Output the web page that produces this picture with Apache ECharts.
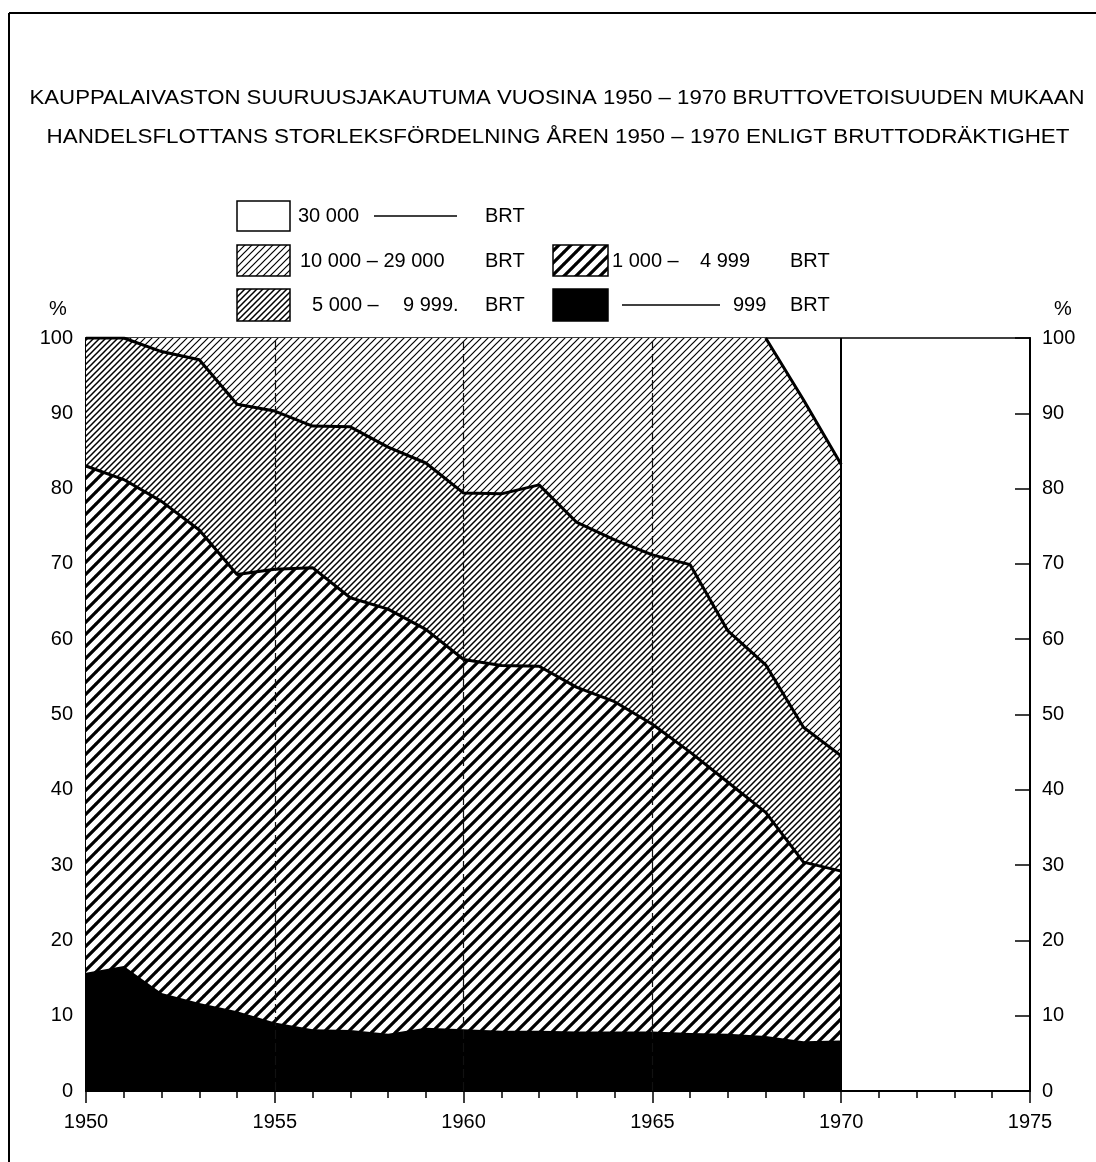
<!DOCTYPE html>
<html>
<head>
<meta charset="utf-8">
<script src="https://cdn.jsdelivr.net/npm/echarts@6/dist/echarts.min.js"></script>
<style>html,body{margin:0;padding:0;background:#fff}#c{width:1096px;height:1162px}</style>
</head>
<body>
<div id="c"></div>
<script>
// ---- data (percent of gross tonnage by size class) ----
const years = [1950,1951,1952,1953,1954,1955,1956,1957,1958,1959,1960,1961,1962,1963,1964,1965,1966,1967,1968,1969,1970];
const under1000   = [15.7,16.6,13.0,11.7,10.6,9.1,8.2,8.1,7.6,8.4,8.2,8.0,8.0,7.9,7.9,7.9,7.7,7.6,7.3,6.6,6.7];
const s1000_4999  = [67.3,64.6,65.3,62.8,58.0,60.2,61.3,57.4,56.4,52.9,49.1,48.5,48.4,45.7,43.8,40.8,37.3,33.4,29.7,23.8,22.5];
const s5000_9999  = [17.0,18.8,19.9,22.6,22.6,21.0,18.8,22.7,21.5,22.1,22.1,22.8,24.1,21.9,21.5,22.5,24.9,20.1,19.6,17.9,15.3];
const s10000_29000= [0.0,0.0,1.8,2.9,8.8,9.7,11.7,11.8,14.5,16.6,20.6,20.7,19.5,24.5,26.8,28.8,30.1,38.9,43.4,43.5,38.7];
const over30000   = [0,0,0,0,0,0,0,0,0,0,0,0,0,0,0,0,0,0,0,8.2,16.8];
const xTickLabels = [1950,1955,1960,1965,1970,1975];
const yTickLabels = [0,10,20,30,40,50,60,70,80,90,100];

// cumulative tops built from the class shares
const cum = (arrs) => years.map((y, i) => [y, +arrs.reduce((s, a) => s + a[i], 0).toFixed(2)]);
const topUnder1000 = cum([under1000]);
const top4999 = cum([under1000, s1000_4999]);
const top9999 = cum([under1000, s1000_4999, s5000_9999]);
const top29000 = cum([under1000, s1000_4999, s5000_9999, s10000_29000]);
// boundary line between 10 000-29 000 and 30 000- (only where the top class exists)
const boundary30000 = top29000.filter((p, i) => over30000[i] > 0 || (i + 1 < years.length && over30000[i + 1] > 0));

function hatch(size, lw) {
  const c = document.createElement('canvas');
  c.width = size; c.height = size;
  const g = c.getContext('2d');
  g.fillStyle = '#fff'; g.fillRect(0, 0, size, size);
  g.strokeStyle = '#000'; g.lineWidth = lw;
  g.beginPath();
  for (let k = -1; k <= 1; k++) {
    g.moveTo(k * size - 1, size + 1);
    g.lineTo(k * size + size + 1, -1);
  }
  g.stroke();
  return { image: c, repeat: 'repeat' };
}
const P_fine = hatch(7, 1.2);
const P_med = hatch(6, 1.5);
const P_thick = hatch(12, 3.2);

const FONT = 'Liberation Sans';
const chart = echarts.init(document.getElementById('c'), null, { renderer: 'canvas' });

function measure(text, size) {
  const c = document.createElement('canvas').getContext('2d');
  c.font = size + 'px "' + FONT + '"';
  return c.measureText(text).width;
}
const T1 = 'KAUPPALAIVASTON SUURUUSJAKAUTUMA VUOSINA 1950 – 1970 BRUTTOVETOISUUDEN MUKAAN';
const T2 = 'HANDELSFLOTTANS STORLEKSFÖRDELNING ÅREN 1950 – 1970 ENLIGT BRUTTODRÄKTIGHET';
const TS = 20;
const sx1 = 1055 / measure(T1, TS);
const sx2 = 1023 / measure(T2, TS);

const LF = '20px "' + FONT + '"';
const txt = (x, y, text, align) => ({
  type: 'text', x: x, y: y,
  style: { text: text, fill: '#000', font: LF, textVerticalAlign: 'middle', textAlign: align || 'left' }
});
const hline = (x1, x2, y, w) => ({ type: 'line', shape: { x1: x1, y1: y, x2: x2, y2: y }, style: { stroke: '#000', lineWidth: w || 1.5 } });
const box = (x, y, w, h, fill) => ({ type: 'rect', shape: { x: x, y: y, width: w, height: h }, style: { fill: fill, stroke: '#000', lineWidth: 1.5 } });

const areaSeries = (name, data, fill, lw) => ({
  name: name, type: 'line', data: data, symbol: 'none', silent: true,
  lineStyle: { color: '#000', width: lw },
  areaStyle: { color: fill, opacity: 1 }
});

chart.setOption({
  animation: false,
  backgroundColor: '#fff',
  grid: { left: 86, right: 66, top: 338, bottom: 71, show: true, borderColor: '#000', borderWidth: 1.5, backgroundColor: 'transparent' },
  xAxis: {
    type: 'value', min: xTickLabels[0], max: xTickLabels[xTickLabels.length - 1], interval: 5,
    axisLine: { show: true, onZero: false, lineStyle: { color: '#000', width: 2 } },
    axisTick: { show: true, length: 12, lineStyle: { color: '#000', width: 1.5 } },
    minorTick: { show: true, splitNumber: 5, length: 7, lineStyle: { color: '#000', width: 1.5 } },
    axisLabel: { color: '#000', fontSize: 20, fontFamily: FONT, margin: 21, formatter: v => String(v) },
    splitLine: { show: false }
  },
  yAxis: [0, 1].map(i => ({
    type: 'value', min: yTickLabels[0], max: yTickLabels[yTickLabels.length - 1], interval: 10,
    position: i === 0 ? 'left' : 'right',
    axisLine: { show: true, lineStyle: { color: '#000', width: 2 } },
    axisTick: { show: true, inside: true, length: 15, lineStyle: { color: '#000', width: 1.5 } },
    axisLabel: { color: '#000', fontSize: 20, fontFamily: FONT, margin: i === 0 ? 13 : 12, formatter: v => String(v) },
    splitLine: { show: false }
  })),
  series: [
    areaSeries('10 000 – 29 000 BRT', top29000, P_fine, 0),
    areaSeries('5 000 – 9 999 BRT', top9999, P_med, 3),
    areaSeries('1 000 – 4 999 BRT', top4999, P_thick, 3),
    areaSeries('– 999 BRT', topUnder1000, '#000', 0),
    {
      name: '30 000 – BRT', type: 'line', data: boundary30000, symbol: 'none', silent: true, z: 5,
      lineStyle: { color: '#000', width: 3 },
      markLine: {
        silent: true, symbol: 'none', label: { show: false },
        lineStyle: { color: '#111', width: 1.2, type: [9, 4] },
        data: [
          { xAxis: 1955 }, { xAxis: 1960 }, { xAxis: 1965 },
          { xAxis: 1970, lineStyle: { color: '#000', width: 2, type: 'solid' } }
        ]
      }
    }
  ],
  graphic: [
    // frame
    { type: 'line', shape: { x1: 9, y1: 13, x2: 9, y2: 1162 }, style: { stroke: '#000', lineWidth: 2 } },
    { type: 'line', shape: { x1: 9, y1: 13, x2: 1096, y2: 13 }, style: { stroke: '#000', lineWidth: 2 } },
    // titles
    { type: 'text', x: 557, y: 98, scaleX: sx1, style: { text: T1, fill: '#000', font: TS + 'px "' + FONT + '"', textAlign: 'center', textVerticalAlign: 'middle' } },
    { type: 'text', x: 558, y: 137, scaleX: sx2, style: { text: T2, fill: '#000', font: TS + 'px "' + FONT + '"', textAlign: 'center', textVerticalAlign: 'middle' } },
    // legend row 1
    box(237, 201, 53, 30, '#fff'),
    txt(298, 216, '30 000'), hline(374, 457, 216, 1.5), txt(485, 216, 'BRT'),
    // legend row 2
    box(237, 245, 53, 31, P_fine),
    txt(300, 261, '10 000 – 29 000'), txt(485, 261, 'BRT'),
    box(553, 245, 55, 31, P_thick),
    txt(612, 261, '1 000 –'), txt(700, 261, '4 999'), txt(790, 261, 'BRT'),
    // legend row 3
    box(237, 289, 53, 32, P_med),
    txt(312, 305, '5 000 –'), txt(403, 305, '9 999.'), txt(485, 305, 'BRT'),
    box(553, 289, 55, 32, '#000'),
    hline(622, 720, 305, 1.5), txt(733, 305, '999'), txt(790, 305, 'BRT'),
    // percent signs
    txt(58, 309, '%', 'center'),
    txt(1063, 309, '%', 'center')
  ]
});
</script>
</body>
</html>
